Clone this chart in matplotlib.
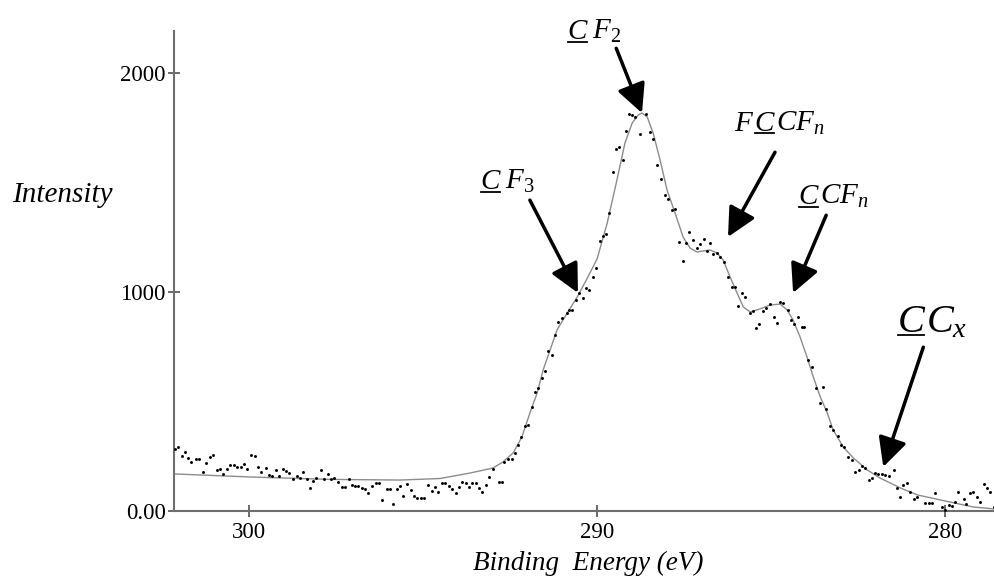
import matplotlib
matplotlib.use('Agg')
import matplotlib.pyplot as plt
from matplotlib.lines import Line2D
from matplotlib.transforms import IdentityTransform

plt.rcParams['font.family'] = 'Liberation Serif'
plt.rcParams['mathtext.fontset'] = 'custom'
plt.rcParams['mathtext.rm'] = 'Liberation Serif'
plt.rcParams['mathtext.it'] = 'Liberation Serif:italic'

# fitted envelope (binding energy in eV, counts)
fit_energy = [302.16, 299.97, 297.67, 295.66, 294.51, 293.65, 292.99, 292.70, 292.41,
              292.16, 291.93, 291.72, 291.55, 291.35, 291.15, 290.86, 290.57, 290.29,
              290.00, 289.71, 289.43, 289.20, 288.99, 288.82, 288.71, 288.56, 288.39,
              288.19, 287.99, 287.76, 287.53, 287.33, 287.13, 286.95, 286.75, 286.55,
              286.38, 286.18, 285.98, 285.80, 285.60, 285.32, 285.03, 284.74, 284.54,
              284.37, 284.17, 283.97, 283.79, 283.59, 283.39, 283.22, 282.93, 282.64,
              282.24, 281.87, 281.29, 280.80, 280.14, 279.20, 278.59]
fit_intensity = [168, 154, 143, 140, 147, 172, 195, 223, 264,
                 337, 446, 538, 643, 734, 826, 903, 976, 1060,
                 1150, 1314, 1511, 1680, 1772, 1808, 1817, 1799, 1726,
                 1602, 1465, 1360, 1251, 1200, 1182, 1187, 1191, 1177,
                 1146, 1068, 995, 931, 908, 922, 940, 944, 917,
                 871, 794, 702, 611, 520, 447, 369, 291, 241,
                 186, 149, 104, 72, 49, 17, 8]

# measured points
pts_energy = [302.13, 302.03, 301.93, 301.84, 301.74, 301.65, 301.52, 301.43, 301.33, 301.24,
              301.12, 301.02, 300.93, 300.83, 300.74, 300.62, 300.53, 300.43, 300.34, 300.24,
              300.14, 300.05, 299.95, 299.83, 299.73, 299.64, 299.52, 299.43, 299.33, 299.22,
              299.13, 299.03, 298.94, 298.84, 298.73, 298.63, 298.53, 298.44, 298.34, 298.25,
              298.15, 298.06, 297.94, 297.84, 297.74, 297.65, 297.56, 297.43, 297.34, 297.24,
              297.13, 297.03, 296.94, 296.86, 296.76, 296.67, 296.57, 296.46, 296.36, 296.27,
              296.17, 296.04, 295.95, 295.85, 295.76, 295.66, 295.56, 295.45, 295.35, 295.26,
              295.16, 295.07, 294.97, 294.85, 294.75, 294.66, 294.56, 294.46, 294.37, 294.25,
              294.16, 294.06, 293.97, 293.87, 293.77, 293.68, 293.58, 293.49, 293.39, 293.30,
              293.20, 293.10, 292.98, 292.83, 292.74, 292.67, 292.55, 292.45, 292.36, 292.26,
              292.18, 292.07, 291.97, 291.88, 291.78, 291.69, 291.59, 291.49, 291.40, 291.30,
              291.21, 291.11, 291.02, 290.87, 290.80, 290.73, 290.60, 290.51, 290.41, 290.32,
              290.22, 290.13, 290.03, 289.93, 289.84, 289.74, 289.65, 289.55, 289.45, 289.38,
              289.26, 289.17, 289.09, 289.00, 288.91, 288.78, 288.59, 288.48, 288.38, 288.27,
              288.17, 288.05, 287.95, 287.85, 287.76, 287.64, 287.54, 287.44, 287.35, 287.25,
              287.14, 287.04, 286.94, 286.85, 286.77, 286.66, 286.56, 286.47, 286.35, 286.23,
              286.13, 286.04, 285.94, 285.84, 285.75, 285.62, 285.53, 285.43, 285.34, 285.24,
              285.14, 285.03, 284.93, 284.84, 284.74, 284.65, 284.53, 284.43, 284.34, 284.24,
              284.12, 284.05, 283.93, 283.83, 283.71, 283.61, 283.52, 283.42, 283.30, 283.21,
              283.09, 282.99, 282.92, 282.78, 282.68, 282.59, 282.49, 282.39, 282.30, 282.20,
              282.11, 282.01, 281.92, 281.82, 281.72, 281.63, 281.48, 281.39, 281.29, 281.20,
              281.10, 281.01, 280.91, 280.82, 280.57, 280.48, 280.38, 280.29, 280.10, 280.00,
              279.90, 279.81, 279.71, 279.62, 279.47, 279.40, 279.30, 279.19, 279.09, 279.00,
              278.90, 278.80, 278.71, 278.61]
pts_intensity = [280, 290, 250, 270, 239, 224, 236, 236, 175, 219,
                 244, 253, 186, 192, 168, 189, 209, 209, 201, 198,
                 212, 190, 253, 250, 201, 178, 194, 163, 160, 186,
                 160, 189, 183, 171, 143, 159, 148, 178, 143, 102,
                 136, 151, 186, 143, 168, 143, 148, 133, 107, 107,
                 143, 117, 113, 113, 102, 98, 79, 113, 128, 125,
                 49, 98, 98, 31, 98, 114, 67, 122, 95, 67,
                 56, 56, 56, 117, 91, 110, 87, 125, 125, 113,
                 98, 79, 110, 133, 125, 107, 125, 125, 102, 87,
                 117, 156, 189, 133, 133, 224, 235, 235, 262, 300,
                 335, 389, 392, 472, 544, 559, 608, 640, 731, 712,
                 803, 864, 879, 905, 917, 917, 963, 993, 970, 1016,
                 1009, 1069, 1107, 1234, 1255, 1264, 1362, 1549, 1651, 1660,
                 1602, 1736, 1813, 1808, 1797, 1721, 1813, 1732, 1697, 1580,
                 1514, 1443, 1423, 1374, 1379, 1229, 1142, 1222, 1275, 1237,
                 1199, 1219, 1240, 1188, 1225, 1173, 1179, 1161, 1138, 1069,
                 1024, 1021, 935, 993, 978, 905, 914, 833, 853, 914,
                 925, 945, 887, 856, 955, 951, 917, 871, 853, 887,
                 838, 838, 689, 658, 559, 491, 564, 463, 387, 369,
                 341, 300, 290, 247, 232, 178, 186, 204, 194, 140,
                 148, 171, 168, 168, 163, 159, 186, 102, 61, 118,
                 125, 87, 54, 64, 37, 37, 37, 79, 18, 3,
                 26, 21, 41, 87, 52, 31, 79, 87, 61, 41,
                 122, 102, 87, 15]

# peak labels: (parts, text anchor, arrow tail, arrow tip, size)
peak_labels = [
    ([('$C$', True), (r'$\,F_3$', False)], (293.36, 1470), (291.93, 1419), (290.55, 995), 21),
    ([('$C$', True), (r'$\,F_2$', False)], (290.86, 2155), (289.45, 2113), (288.71, 1817), 21),
    ([(r'$F\,$', False), ('$C$', True), ('$CF_n$', False)], (286.06, 1735), (284.89, 1638), (286.24, 1251), 21),
    ([('$C$', True), ('$CF_n$', False)], (284.22, 1400), (283.42, 1350), (284.37, 995), 21),
    ([('$C$', True), ('$C_x$', False)], (281.38, 817), (280.63, 747), (281.78, 200), 29),
]

fig = plt.figure(figsize=(9.94, 5.76), dpi=100)
ax = fig.add_axes([0.1751, 0.1134, 0.8249, 0.8328])

ax.plot(fit_energy, fit_intensity, color='#8c8c8c', lw=1.0, zorder=2)
ax.scatter(pts_energy, pts_intensity, s=4.5, color='black', lw=0, zorder=3)

ax.set_xlim(302.15, 278.6)
ax.set_ylim(0, 2192)
for s in ['top', 'right']:
    ax.spines[s].set_visible(False)
for s in ['left', 'bottom']:
    ax.spines[s].set_color('#6e6e6e')
    ax.spines[s].set_linewidth(1.5)

ax.set_xticks([300, 290, 280])
ax.set_xticklabels(['300', '290', '280'])
ax.set_yticks([0, 1000, 2000])
ax.set_yticklabels(['0.00', '1000', '2000'])
ax.tick_params(direction='inout', length=8, width=1.2, color='#505050', labelsize=16.5)
ax.tick_params(axis='y', pad=2)
ax.tick_params(axis='x', pad=4)

fig.text(0.012, 0.661, 'Intensity', fontsize=21, style='italic', ha='left', va='center')
fig.text(0.592, 0.0104, 'Binding  Energy (eV)', fontsize=19.5, style='italic',
         ha='center', va='baseline')

underlined = []
for parts, anchor, tail, tip, size in peak_labels:
    ax.annotate('', xy=tip, xytext=tail,
                arrowprops=dict(arrowstyle='-|>,head_length=0.8,head_width=0.4',
                                mutation_scale=22, lw=2.5, color='black',
                                shrinkA=0, shrinkB=0))
    prev = None
    for txt, ul in parts:
        if prev is None:
            t = ax.text(anchor[0], anchor[1], txt, fontsize=size, ha='left', va='baseline')
        else:
            t = ax.annotate(txt, xy=(1, 0), xycoords=prev, xytext=(0, 0.217 * size),
                            textcoords='offset points', fontsize=size, ha='left', va='baseline')
        if ul:
            underlined.append((t, size))
        prev = t

# underline the carbon atom of interest
fig.canvas.draw()
for t, size in underlined:
    bb = t.get_window_extent()
    em = size * fig.dpi / 72
    y = bb.y0 + 0.217 * em - 3
    fig.add_artist(Line2D([bb.x0 + 1, bb.x1 - 2], [y, y], transform=IdentityTransform(),
                          color='black', lw=1.3))

fig.savefig('out.png', dpi=100)
